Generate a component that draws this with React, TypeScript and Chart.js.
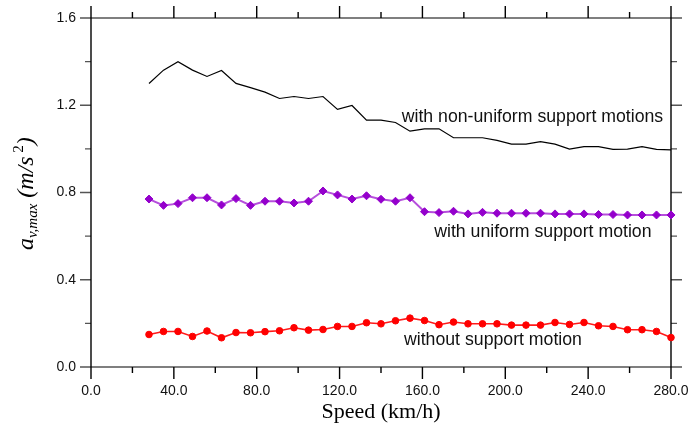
import { useEffect, useRef } from "react";
import { Chart, registerables } from "chart.js";

Chart.register(...registerables);

// ---- data ----
const speeds = [28, 35, 42, 49, 56, 63, 70, 77, 84, 91, 98, 105, 112, 119, 126, 133, 140, 147, 154, 161, 168, 175, 182, 189, 196, 203, 210, 217, 224, 231, 238, 245, 252, 259, 266, 273, 280];

const nonUniform = [1.300, 1.361, 1.400, 1.361, 1.332, 1.359, 1.300, 1.281, 1.260, 1.231, 1.240, 1.231, 1.240, 1.181, 1.199, 1.132, 1.132, 1.121, 1.081, 1.092, 1.092, 1.051, 1.051, 1.051, 1.039, 1.022, 1.022, 1.033, 1.022, 0.999, 1.010, 1.010, 0.998, 0.999, 1.010, 0.998, 0.995];

const uniform = [0.770, 0.741, 0.749, 0.776, 0.776, 0.743, 0.772, 0.741, 0.760, 0.760, 0.752, 0.760, 0.807, 0.789, 0.770, 0.785, 0.769, 0.760, 0.776, 0.712, 0.708, 0.714, 0.702, 0.709, 0.705, 0.705, 0.705, 0.705, 0.702, 0.702, 0.702, 0.699, 0.699, 0.697, 0.697, 0.697, 0.697];

const withoutSupport = [0.149, 0.163, 0.163, 0.140, 0.165, 0.134, 0.158, 0.157, 0.162, 0.166, 0.180, 0.169, 0.172, 0.186, 0.186, 0.203, 0.198, 0.212, 0.224, 0.213, 0.194, 0.206, 0.198, 0.198, 0.198, 0.192, 0.192, 0.192, 0.204, 0.195, 0.204, 0.189, 0.186, 0.171, 0.171, 0.163, 0.135];

const xMajorTicks = [0, 40, 80, 120, 160, 200, 240, 280];
const xMinorTicks = [20, 60, 100, 140, 180, 220, 260];
const yMajorTicks = [0, 0.4, 0.8, 1.2, 1.6];
const yMinorTicks = [0.2, 0.6, 1.0, 1.4];

const annotationTexts = ["with non-uniform support motions", "with uniform support motion", "without support motion"];
const annotationX = [150.0, 165.7, 151.1];
const annotationY = [1.124, 0.598, 0.099];

const xTitle = "Speed (km/h)";

const SANS = '"Liberation Sans", Arial, sans-serif';
const SERIF = '"Liberation Serif", "Times New Roman", serif';

const toPoints = (vals: number[]) => vals.map((v, i) => ({ x: speeds[i], y: v }));

const framePlugin = {
  id: "frame",
  beforeDatasetsDraw(chart: any) {
    const { ctx, chartArea } = chart;
    const { left, right, top, bottom } = chartArea;
    const xs = chart.scales.x;
    const ys = chart.scales.y;
    ctx.save();
    ctx.strokeStyle = "#555";
    ctx.lineWidth = 1.4;
    ctx.beginPath();
    ctx.moveTo(left, top);
    ctx.lineTo(right, top);
    ctx.moveTo(left, bottom);
    ctx.lineTo(right, bottom);
    yMajorTicks.forEach((v) => {
      const p = ys.getPixelForValue(v);
      ctx.moveTo(left - 11, p);
      ctx.lineTo(left, p);
      ctx.moveTo(right, p);
      ctx.lineTo(right + 11, p);
    });
    yMinorTicks.forEach((v) => {
      const p = ys.getPixelForValue(v);
      ctx.moveTo(left - 6, p);
      ctx.lineTo(left, p);
      ctx.moveTo(right, p);
      ctx.lineTo(right + 6, p);
    });
    ctx.stroke();

    ctx.strokeStyle = "#000";
    ctx.lineWidth = 1.4;
    ctx.beginPath();
    ctx.moveTo(left, top);
    ctx.lineTo(left, bottom);
    ctx.moveTo(right, top);
    ctx.lineTo(right, bottom);
    xMajorTicks.forEach((v) => {
      const p = xs.getPixelForValue(v);
      ctx.moveTo(p, top - 12);
      ctx.lineTo(p, top);
      ctx.moveTo(p, bottom);
      ctx.lineTo(p, bottom + 12);
    });
    xMinorTicks.forEach((v) => {
      const p = xs.getPixelForValue(v);
      ctx.moveTo(p, top - 6);
      ctx.lineTo(p, top);
      ctx.moveTo(p, bottom);
      ctx.lineTo(p, bottom + 6);
    });
    ctx.stroke();
    ctx.restore();
  },
  afterDatasetsDraw(chart: any) {
    const { ctx, chartArea } = chart;
    const xs = chart.scales.x;
    const ys = chart.scales.y;
    ctx.save();
    ctx.fillStyle = "#111";
    ctx.textBaseline = "alphabetic";
    ctx.textAlign = "left";
    ctx.font = `17.7px ${SANS}`;
    annotationTexts.forEach((t, i) => {
      ctx.fillText(t, xs.getPixelForValue(annotationX[i]), ys.getPixelForValue(annotationY[i]));
    });

    ctx.fillStyle = "#000";
    ctx.textAlign = "center";
    ctx.font = `22px ${SERIF}`;
    ctx.fillText(xTitle, (chartArea.left + chartArea.right) / 2, 418);

    ctx.textAlign = "left";
    ctx.translate(33, 250);
    ctx.rotate(-Math.PI / 2);
    let cx = 0;
    const parts: [string, string, number][] = [
      ["a", `italic 24px ${SERIF}`, 0],
      ["v,max", `italic 15px ${SERIF}`, 4],
      [" (m/s", `italic 24px ${SERIF}`, 0],
      [" 2", `15px ${SERIF}`, -10],
      [")", `italic 24px ${SERIF}`, 0],
    ];
    parts.forEach(([t, f, dy]) => {
      ctx.font = f;
      ctx.fillText(t, cx, dy);
      cx += ctx.measureText(t).width;
    });
    ctx.restore();
  },
};

export default function App() {
  const canvasRef = useRef<HTMLCanvasElement | null>(null);

  useEffect(() => {
    const canvas = canvasRef.current;
    if (!canvas) return;
    const chart = new Chart(canvas, {
      type: "line",
      data: {
        datasets: [
          {
            label: "with non-uniform support motions",
            data: toPoints(nonUniform),
            borderColor: "#000",
            borderWidth: 1.2,
            pointRadius: 0,
            fill: false,
            tension: 0,
            clip: false as any,
          },
          {
            label: "with uniform support motion",
            data: toPoints(uniform),
            borderColor: "#b64fdc",
            borderWidth: 2,
            pointStyle: "rectRot",
            pointRadius: 4,
            pointBackgroundColor: "#9400cc",
            pointBorderColor: "#9400cc",
            pointBorderWidth: 1,
            fill: false,
            tension: 0,
            clip: false as any,
          },
          {
            label: "without support motion",
            data: toPoints(withoutSupport),
            borderColor: "#ff1a1a",
            borderWidth: 1.6,
            pointStyle: "circle",
            pointRadius: 3.3,
            pointBackgroundColor: "#ff0000",
            pointBorderColor: "#ff0000",
            pointBorderWidth: 1,
            fill: false,
            tension: 0,
            clip: false as any,
          },
        ],
      },
      options: {
        responsive: false,
        devicePixelRatio: 1,
        animation: false,
        events: [],
        layout: { padding: { left: 0, right: 17, top: 18, bottom: 0 } },
        plugins: {
          legend: { display: false },
          tooltip: { enabled: false },
        },
        scales: {
          x: {
            type: "linear",
            min: 0,
            max: 280,
            grid: { display: false, drawTicks: false },
            border: { display: false },
            ticks: {
              stepSize: 40,
              padding: 16,
              color: "#111",
              font: { family: SANS, size: 14 },
              maxRotation: 0,
              autoSkip: false,
              callback: (v: any) => Number(v).toFixed(1),
            },
            afterFit: (s: any) => {
              s.height = 58;
              s.paddingLeft = 0;
              s.paddingRight = 0;
            },
          },
          y: {
            type: "linear",
            min: 0,
            max: 1.6,
            grid: { display: false, drawTicks: false },
            border: { display: false },
            ticks: {
              stepSize: 0.4,
              padding: 15,
              color: "#111",
              font: { family: SANS, size: 14 },
              callback: (v: any) => Number(v).toFixed(1),
            },
            afterFit: (s: any) => {
              s.width = 91;
              s.paddingTop = 0;
              s.paddingBottom = 0;
            },
          },
        },
      },
      plugins: [framePlugin],
    });
    return () => chart.destroy();
  }, []);

  return (
    <div style={{ position: "absolute", left: 0, top: 0, width: 688, height: 425, background: "#fff" }}>
      <canvas ref={canvasRef} width={688} height={425} style={{ width: 688, height: 425, display: "block" }} />
    </div>
  );
}
